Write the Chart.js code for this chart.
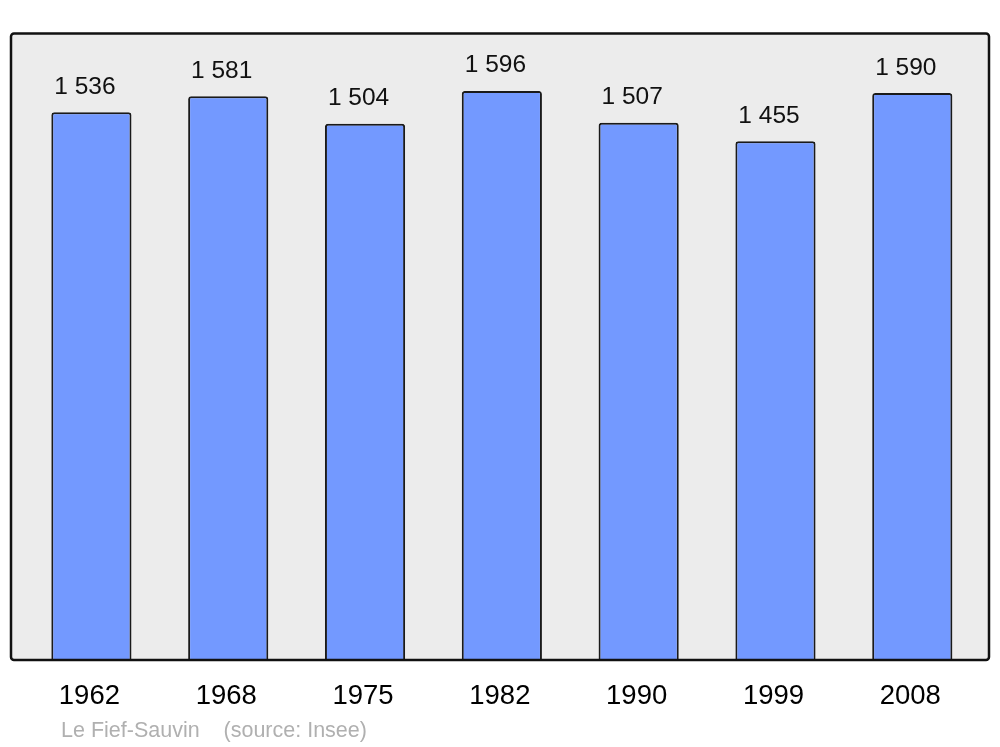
<!DOCTYPE html>
<html>
<head>
<meta charset="utf-8">
<script src="https://cdn.jsdelivr.net/npm/chart.js@4/dist/chart.umd.min.js"></script>
<style>
html,body{margin:0;padding:0;background:#fff;}
#wrap{width:1000px;height:747px;}
</style>
</head>
<body>
<div id="wrap"><canvas id="c" width="1000" height="747"></canvas></div>
<script>
const years = ['1962', '1968', '1975', '1982', '1990', '1999', '2008'];
const population = [1536, 1581, 1504, 1596, 1507, 1455, 1590];
const footerText = 'Le Fief-Sauvin    (source: Insee)';

const FONT = '"Liberation Sans", Arial, sans-serif';

function fmt(v) {
  return String(v).replace(/\B(?=(\d{3})+(?!\d))/g, ' ');
}

function boxPath(ctx, ca) {
  const x0 = ca.left - 12, x1 = ca.right + 8.3, y0 = ca.top - 0.5, y1 = ca.bottom;
  ctx.beginPath();
  if (ctx.roundRect) ctx.roundRect(x0, y0, x1 - x0, y1 - y0, 3);
  else ctx.rect(x0, y0, x1 - x0, y1 - y0);
}

const framePlugin = {
  id: 'frame',
  beforeDatasetsDraw(chart) {
    const ctx = chart.ctx, ca = chart.chartArea;
    ctx.save();
    boxPath(ctx, ca);
    ctx.fillStyle = '#ececec';
    ctx.fill();
    ctx.restore();
  },
  afterDatasetsDraw(chart) {
    const ctx = chart.ctx, ca = chart.chartArea;
    ctx.save();
    boxPath(ctx, ca);
    ctx.lineWidth = 2.5;
    ctx.strokeStyle = '#111';
    ctx.stroke();
    // value labels
    const meta = chart.getDatasetMeta(0);
    ctx.font = '24.5px ' + FONT;
    ctx.fillStyle = '#111';
    ctx.textAlign = 'center';
    ctx.textBaseline = 'alphabetic';
    meta.data.forEach((bar, i) => {
      ctx.fillText(fmt(population[i]), bar.x - 6.5, bar.y - 18.5);
    });
    // footer
    ctx.font = '21.5px ' + FONT;
    ctx.fillStyle = '#b0b0b0';
    ctx.textAlign = 'left';
    ctx.fillText(footerText, ca.left + 38, 737);
    ctx.restore();
  }
};

new Chart(document.getElementById('c'), {
  type: 'bar',
  data: {
    labels: years,
    datasets: [{
      data: population,
      backgroundColor: '#7399ff',
      borderColor: '#1a1a1a',
      borderWidth: 2,
      borderRadius: {topLeft: 3, topRight: 3, bottomLeft: 0, bottomRight: 0},
      borderSkipped: 'bottom',
      barPercentage: 0.586,
      categoryPercentage: 1.0
    }]
  },
  options: {
    responsive: false,
    animation: false,
    devicePixelRatio: 1,
    layout: {padding: {left: 23, right: 19.3, top: 34, bottom: 0}},
    plugins: {legend: {display: false}, tooltip: {enabled: false}},
    scales: {
      x: {
        grid: {display: false, drawTicks: false},
        border: {display: false},
        ticks: {font: {family: FONT, size: 27.5}, color: '#000', padding: 20, labelOffset: -2},
        afterFit(s) { s.height = 87; }
      },
      y: {
        display: false,
        min: 0,
        max: Math.max(...population) * 1.1
      }
    }
  },
  plugins: [framePlugin]
});
</script>
</body>
</html>
